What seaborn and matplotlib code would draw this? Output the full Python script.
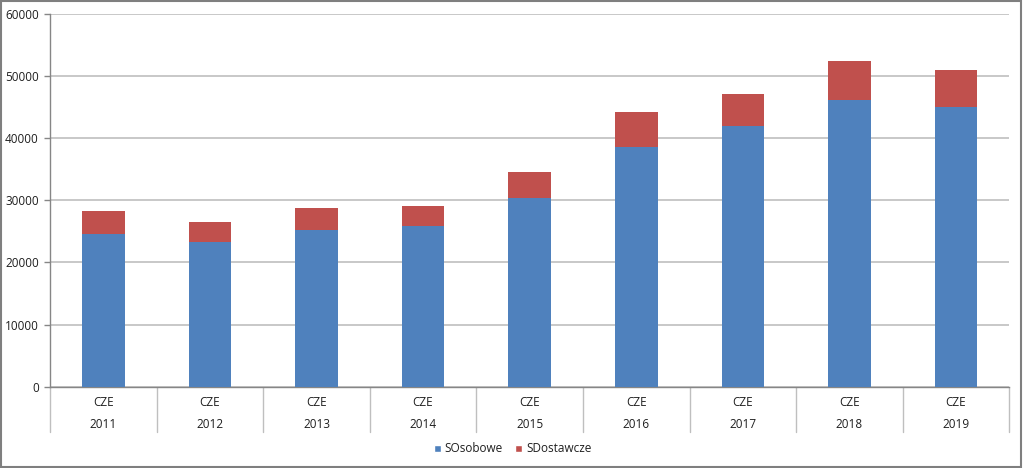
import matplotlib
matplotlib.use("Agg")
import matplotlib.pyplot as plt
import matplotlib.transforms as mtransforms
from matplotlib.patches import Patch, Rectangle
import numpy as np
import pandas as pd
import seaborn as sns

years = ["2011", "2012", "2013", "2014", "2015", "2016", "2017", "2018", "2019"]
country = ["CZE"] * 9
osobowe = [24600, 23300, 25200, 25800, 30400, 38600, 41900, 46100, 45000]
dostawcze = [3700, 3200, 3600, 3300, 4100, 5600, 5300, 6400, 6000]
yticks = [0, 10000, 20000, 30000, 40000, 50000, 60000]

BLUE = "#4F81BD"
RED = "#C0504D"
GRID = "#BFBFBF"
AXC = "#868686"
TXT = "#1F1F1F"
FS = 8.5

sns.set_theme(style="white")
plt.rcParams["font.family"] = ["Open Sans", "DejaVu Sans"]

df = pd.DataFrame({"year": years, "country": country,
                   "SOsobowe": osobowe, "SDostawcze": dostawcze})
df["total"] = df["SOsobowe"] + df["SDostawcze"]

fig = plt.figure(figsize=(10.23, 4.68), dpi=100)
ax = fig.add_axes([50 / 1023, 81.3 / 468, 959.3 / 1023, 372.7 / 468])

sns.barplot(data=df, x="year", y="total", color=RED, width=0.4, saturation=1,
            ax=ax, order=years, linewidth=0, zorder=3)
sns.barplot(data=df, x="year", y="SOsobowe", color=BLUE, width=0.4, saturation=1,
            ax=ax, order=years, linewidth=0, zorder=4)

ax.set_xlim(-0.5, len(years) - 0.5)
ax.set_ylim(0, 60000)
ax.set_yticks(yticks)
ax.set_yticklabels([str(v) for v in yticks], fontsize=FS, color=TXT)
ax.yaxis.grid(True, color=GRID, linewidth=1.2, zorder=0)
ax.set_axisbelow(True)
ax.tick_params(axis="y", length=4, color=AXC, width=1, pad=4, left=True)
ax.set_xticks([])
ax.set_xlabel("")
ax.set_ylabel("")
for s in ["top", "right"]:
    ax.spines[s].set_visible(False)
ax.spines["left"].set_color(AXC)
ax.spines["bottom"].set_color(AXC)
ax.spines["left"].set_linewidth(1)
ax.spines["bottom"].set_linewidth(1)

trans = mtransforms.blended_transform_factory(ax.transData, ax.transAxes)
ax_h_px = 372.7
for i, (c, y) in enumerate(zip(country, years)):
    ax.text(i, -(402 - 386.7) / ax_h_px, c, transform=trans, ha="center", va="center",
            fontsize=FS, color=TXT)
    ax.text(i, -(425 - 386.7) / ax_h_px, y, transform=trans, ha="center", va="center",
            fontsize=FS, color=TXT)
for b in np.arange(-0.5, len(years), 1.0):
    ax.plot([b, b], [0, -(432 - 386.7) / ax_h_px], transform=trans, color=GRID,
            linewidth=1, clip_on=False)

handles = [Patch(facecolor=BLUE, label="SOsobowe"), Patch(facecolor=RED, label="SDostawcze")]
fig.legend(handles=handles, loc="center", bbox_to_anchor=(0.501, 1 - 449 / 468), ncol=2,
           frameon=False, fontsize=FS, handlelength=0.6, handleheight=0.6,
           handletextpad=0.35, columnspacing=1.0, labelcolor=TXT)

fig.patches.append(Rectangle((0.001, 0.002), 0.997, 0.996, transform=fig.transFigure,
                             fill=False, edgecolor="#7F7F7F", linewidth=1.5))

fig.savefig("out.png", dpi=100)
